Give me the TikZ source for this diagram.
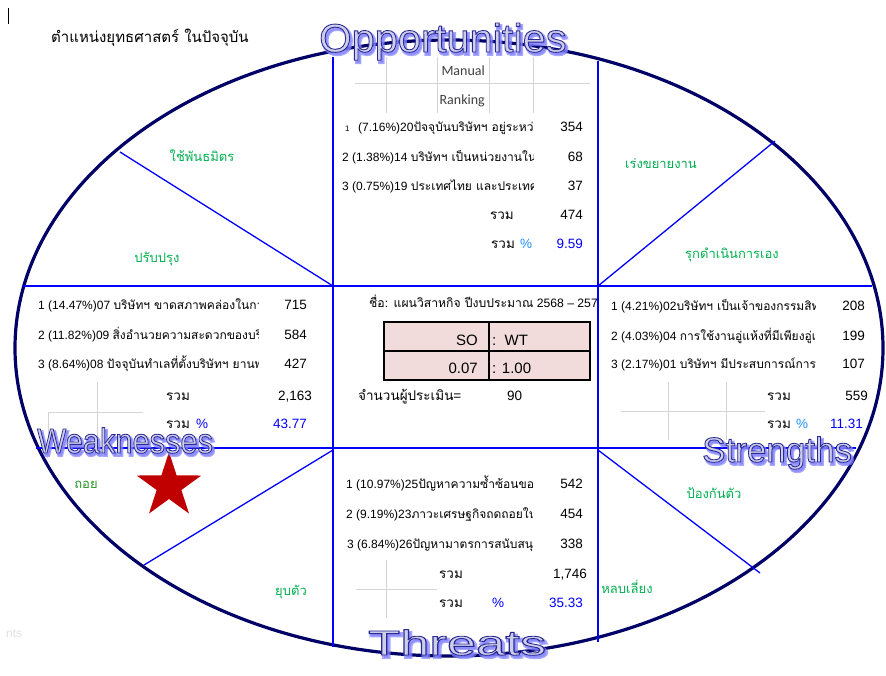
\documentclass[tikz,border=0pt]{standalone}
\usepackage{fontspec}
\usepackage{graphicx}
\setmainfont{Liberation Sans}
\newfontfamily\thaifont[Script=Thai]{Loma}
\newfontfamily\calibrifont{Carlito}
\usetikzlibrary{calc}

\definecolor{navyrim}{RGB}{0,0,102}
\definecolor{splitblue}{RGB}{0,0,255}
\definecolor{cellgray}{RGB}{212,212,212}
\definecolor{labelgreen}{RGB}{0,176,80}
\definecolor{retreatgreen}{RGB}{40,150,40}
\definecolor{pctblue}{RGB}{30,144,255}
\definecolor{valblue}{RGB}{0,0,255}
\definecolor{ratiopink}{RGB}{242,220,219}
\definecolor{starred}{RGB}{192,0,0}
\definecolor{artfill}{RGB}{206,206,230}
\definecolor{artshadow}{RGB}{130,130,255}
\definecolor{fadedgray}{RGB}{225,225,225}

% Thai runs inside mixed Latin/Thai strings
\newcommand{\tx}[1]{{\thaifont #1}}
\newcommand{\cellsize}{\fontsize{12}{14}\selectfont}
\newcommand{\valsize}{\fontsize{13.5}{15}\selectfont}
% outlined headline text (fill + stroke) and its soft blue drop shadow
\newcommand{\artface}[1]{\textcolor{artfill}{\special{pdf:literal direct 2 Tr 0.85 w 0.16 0.16 0.59 RG}#1\special{pdf:literal direct 0 Tr}}}
\newcommand{\artshade}[1]{\textcolor{artshadow}{\special{pdf:literal direct 2 Tr 2.6 w 0.51 0.51 1 RG}#1\special{pdf:literal direct 0 Tr}}}

\begin{document}
\begin{tikzpicture}[x=1pt,y=-1pt,
  cell/.style={font=\cellsize, inner sep=0pt, anchor=base west},
  num/.style={font=\valsize, inner sep=0pt, anchor=base east},
  numw/.style={font=\valsize, inner sep=0pt, anchor=base west},
  choice/.style={font=\thaifont\fontsize{13}{15}\selectfont, text=labelgreen, inner sep=0pt},
  rim/.style={draw=navyrim, line width=3.2pt},
  divider/.style={draw=splitblue, line width=2pt},
  slash/.style={draw=splitblue, line width=1.3pt},
  cellrule/.style={draw=cellgray, line width=0.9pt},
  headline/.style={inner sep=0pt, anchor=base west},
  shade/.style={inner sep=0pt, anchor=base west, opacity=0.7}]

\useasboundingbox (0,0) rectangle (886,675);
\fill[white] (0,0) rectangle (886,675);

% outer ellipse
\draw[rim] (449,348) ellipse [x radius=434pt, y radius=308pt];

% quadrant dividers
\coordinate (vl-top) at (333,57);  \coordinate (vl-bot) at (333,647);
\coordinate (vr-top) at (598,61);  \coordinate (vr-bot) at (598,642);
\coordinate (hu-l) at (23,286);    \coordinate (hu-r) at (872,286);
\coordinate (hd-l) at (36,448);    \coordinate (hd-r) at (856,448);
\draw[divider] (vl-top) -- (vl-bot);
\draw[divider] (vr-top) -- (vr-bot);
\draw[divider] (hu-l) -- (hu-r);
\draw[divider] (hd-l) -- (hd-r);

% diagonal splits of the corner zones
\coordinate (nw-rim) at (120,152);
\coordinate (ne-rim) at (775,141);
\coordinate (sw-rim) at (144,565);
\coordinate (se-rim) at (760,573);
\draw[slash] (nw-rim) -- (333,286);
\draw[slash] (598,286) -- (ne-rim);
\draw[slash] (333,450) -- (sw-rim);
\draw[slash] (598,450) -- (se-rim);

% faint spreadsheet cell borders
\draw[cellrule] (355,83) -- (590,83);
\foreach \gx in {386,437,489,533} \draw[cellrule] (\gx,57) -- (\gx,113);
\draw[cellrule] (97,382) -- (97,448);
\draw[cellrule] (48,412) -- (143,412);
\draw[cellrule] (48,412) -- (48,448);
\draw[cellrule] (668,382) -- (668,440);
\draw[cellrule] (726,382) -- (726,440);
\draw[cellrule] (621,411) -- (765,411);
\draw[cellrule] (386,560) -- (386,618);
\draw[cellrule] (356,589) -- (437,589);

% caret and title
\draw[line width=1pt] (8,8) -- (8,24);
\node[inner sep=0pt, anchor=base west, font=\thaifont\fontsize{15}{17}\selectfont] (title) at (51,42) {ตำแหน่งยุทธศาสตร์ ในปัจจุบัน};
\node[inner sep=0pt, anchor=base west, text=fadedgray, font=\cellsize] (stub) at (6,637) {nts};

% ---------- Opportunities table ----------
\node[inner sep=0pt, anchor=base east, text=black!75, font=\calibrifont\fontsize{14}{16}\selectfont] (manual) at (485,75) {Manual};
\node[inner sep=0pt, anchor=base east, text=black!75, font=\calibrifont\fontsize{14}{16}\selectfont] (ranking) at (485,104) {Ranking};
\begin{scope}
  \clip (336,110) rectangle (533,200);
  \node[inner sep=0pt, anchor=base west, font=\fontsize{8}{9}\selectfont] (o1n) at (345,131) {1};
  \node[cell] (o1) at (358,131) {(7.16\%)20\tx{ปัจจุบันบริษัทฯ อยู่ระหว่าง}};
  \node[cell] (o2) at (342,161) {2 (1.38\%)14 \tx{บริษัทฯ เป็นหน่วยงานใน}};
  \node[cell] (o3) at (342,190) {3 (0.75\%)19 \tx{ประเทศไทย และประเทศ}};
\end{scope}
\node[num] (o1v) at (583,131) {354};
\node[num] (o2v) at (583,161) {68};
\node[num] (o3v) at (583,190) {37};
\node[num] (osum) at (514,219) {\tx{รวม}};
\node[num] (osumv) at (583,219) {474};
\node[numw] (opct) at (491,248) {\tx{รวม}};
\node[numw, text=pctblue] (opcts) at (520,248) {\%};
\node[num, text=valblue] (opctv) at (583,248) {9.59};

% ---------- Weaknesses table ----------
\begin{scope}
  \clip (30,290) rectangle (258,380);
  \node[cell] (w1) at (38,309) {1 (14.47\%)07 \tx{บริษัทฯ ขาดสภาพคล่องในการ}};
  \node[cell] (w2) at (38,339) {2 (11.82\%)09 \tx{สิ่งอำนวยความสะดวกของบริษัท}};
  \node[cell] (w3) at (38,368) {3 (8.64\%)08 \tx{ปัจจุบันทำเลที่ตั้งบริษัทฯ ยานพาหนะ}};
\end{scope}
\node[num] (w1v) at (307,309) {715};
\node[num] (w2v) at (307,339) {584};
\node[num] (w3v) at (307,368) {427};
\node[numw] (wsum) at (166,400) {\tx{รวม}};
\node[num] (wsumv) at (312,400) {2,163};
\node[numw] (wpct) at (166,428) {\tx{รวม}};
\node[numw, text=valblue] (wpcts) at (196,428) {\%};
\node[num, text=valblue] (wpctv) at (307,428) {43.77};

% ---------- centre: plan and ratio ----------
\begin{scope}
  \clip (336,290) rectangle (596,315);
  \node[inner sep=0pt, anchor=base west, font=\fontsize{12.2}{14}\selectfont] (plan) at (369,307) {\tx{ชื่อ: แผนวิสาหกิจ ปีงบประมาณ} 2568 – 2572};
\end{scope}
\filldraw[fill=ratiopink, draw=black, line width=1.6pt] (384,322) rectangle (590,380);
\draw[line width=1.2pt] (384,351) -- (590,351);
\draw[line width=1.2pt] (489,322) -- (489,380);
\node[inner sep=0pt, anchor=base east, font=\fontsize{15}{17}\selectfont] (so) at (478,345) {SO};
\node[inner sep=0pt, anchor=base west, font=\fontsize{15}{17}\selectfont] (wt) at (492,345) {:\ \ WT};
\node[inner sep=0pt, anchor=base east, font=\fontsize{15}{17}\selectfont] (sov) at (478,373) {0.07};
\node[inner sep=0pt, anchor=base west, font=\fontsize{15}{17}\selectfont] (wtv) at (492,373) {: 1.00};
\node[inner sep=0pt, anchor=base west, font=\fontsize{13.5}{15}\selectfont] (raters) at (358,400) {\tx{จำนวนผู้ประเมิน}=};
\node[numw] (ratersv) at (507,400) {90};

% ---------- Strengths table ----------
\begin{scope}
  \clip (603,290) rectangle (815,380);
  \node[cell] (s1) at (611,310) {1 (4.21\%)02\tx{บริษัทฯ เป็นเจ้าของกรรมสิทธิ์}};
  \node[cell] (s2) at (611,340) {2 (4.03\%)04 \tx{การใช้งานอู่แห้งที่มีเพียงอู่เดียว}};
  \node[cell] (s3) at (611,368) {3 (2.17\%)01 \tx{บริษัทฯ มีประสบการณ์การ}};
\end{scope}
\node[num] (s1v) at (865,310) {208};
\node[num] (s2v) at (865,340) {199};
\node[num] (s3v) at (865,368) {107};
\node[numw] (ssum) at (767,400) {\tx{รวม}};
\node[num] (ssumv) at (868,400) {559};
\node[numw] (spct) at (767,428) {\tx{รวม}};
\node[numw, text=pctblue] (spcts) at (796,428) {\%};
\node[num, text=valblue] (spctv) at (863,428) {11.31};

% ---------- Threats table ----------
\begin{scope}
  \clip (336,465) rectangle (532,560);
  \node[cell] (t1) at (346,488) {1 (10.97\%)25\tx{ปัญหาความซ้ำซ้อนของ}};
  \node[cell] (t2) at (346,518) {2 (9.19\%)23\tx{ภาวะเศรษฐกิจถดถอยในประเทศ}};
  \node[cell] (t3) at (347,548) {3 (6.84\%)26\tx{ปัญหามาตรการสนับสนุน}};
\end{scope}
\node[num] (t1v) at (583,488) {542};
\node[num] (t2v) at (583,518) {454};
\node[num] (t3v) at (583,548) {338};
\node[numw] (tsum) at (439,578) {\tx{รวม}};
\node[num] (tsumv) at (587,578) {1,746};
\node[numw] (tpct) at (439,607) {\tx{รวม}};
\node[numw, text=valblue] (tpcts) at (492,607) {\%};
\node[num, text=valblue] (tpctv) at (583,607) {35.33};

% ---------- strategy labels ----------
\node[choice] (ally) at (202,156) {ใช้พันธมิตร};
\node[choice] (improve) at (157,259) {ปรับปรุง};
\node[choice] (expand) at (661,163) {เร่งขยายงาน};
\node[choice] (attack) at (732,255) {รุกดำเนินการเอง};
\node[choice, text=retreatgreen] (retreat) at (86,485) {ถอย};
\node[choice] (shrink) at (291,592) {ยุบตัว};
\node[choice] (defend) at (714,493) {ป้องกันตัว};
\node[choice] (avoid) at (627,587) {หลบเลี่ยง};

% current position marker
\fill[starred, shift={(169,486)}]
  (270:34) -- (306:13) -- (342:34) -- (18:13) -- (54:34) -- (90:13)
  -- (126:34) -- (162:13) -- (198:34) -- (234:13) -- cycle;

% ---------- quadrant headlines ----------
\node[shade, font=\fontsize{40}{44}\selectfont] at (321,54.5) {\scalebox{1.04}[1]{\artshade{Opportunities}}};
\node[headline, font=\fontsize{40}{44}\selectfont] (opp) at (319,52) {\scalebox{1.04}[1]{\artface{Opportunities}}};
\node[shade, font=\fontsize{35}{40}\selectfont] at (39,455.5) {\scalebox{0.88}[1]{\artshade{Weaknesses}}};
\node[headline, font=\fontsize{35}{40}\selectfont] (weak) at (37,453) {\scalebox{0.88}[1]{\artface{Weaknesses}}};
\node[shade, font=\fontsize{35}{40}\selectfont] at (704,464.5) {\artshade{Strengths}};
\node[headline, font=\fontsize{35}{40}\selectfont] (strong) at (702,462) {\artface{Strengths}};
\node[shade, font=\fontsize{35}{40}\selectfont] at (370,657.5) {\scalebox{1.5}[1]{\artshade{Threats}}};
\node[headline, font=\fontsize{35}{40}\selectfont] (threat) at (368,655) {\scalebox{1.5}[1]{\artface{Threats}}};

\end{tikzpicture}
\end{document}
